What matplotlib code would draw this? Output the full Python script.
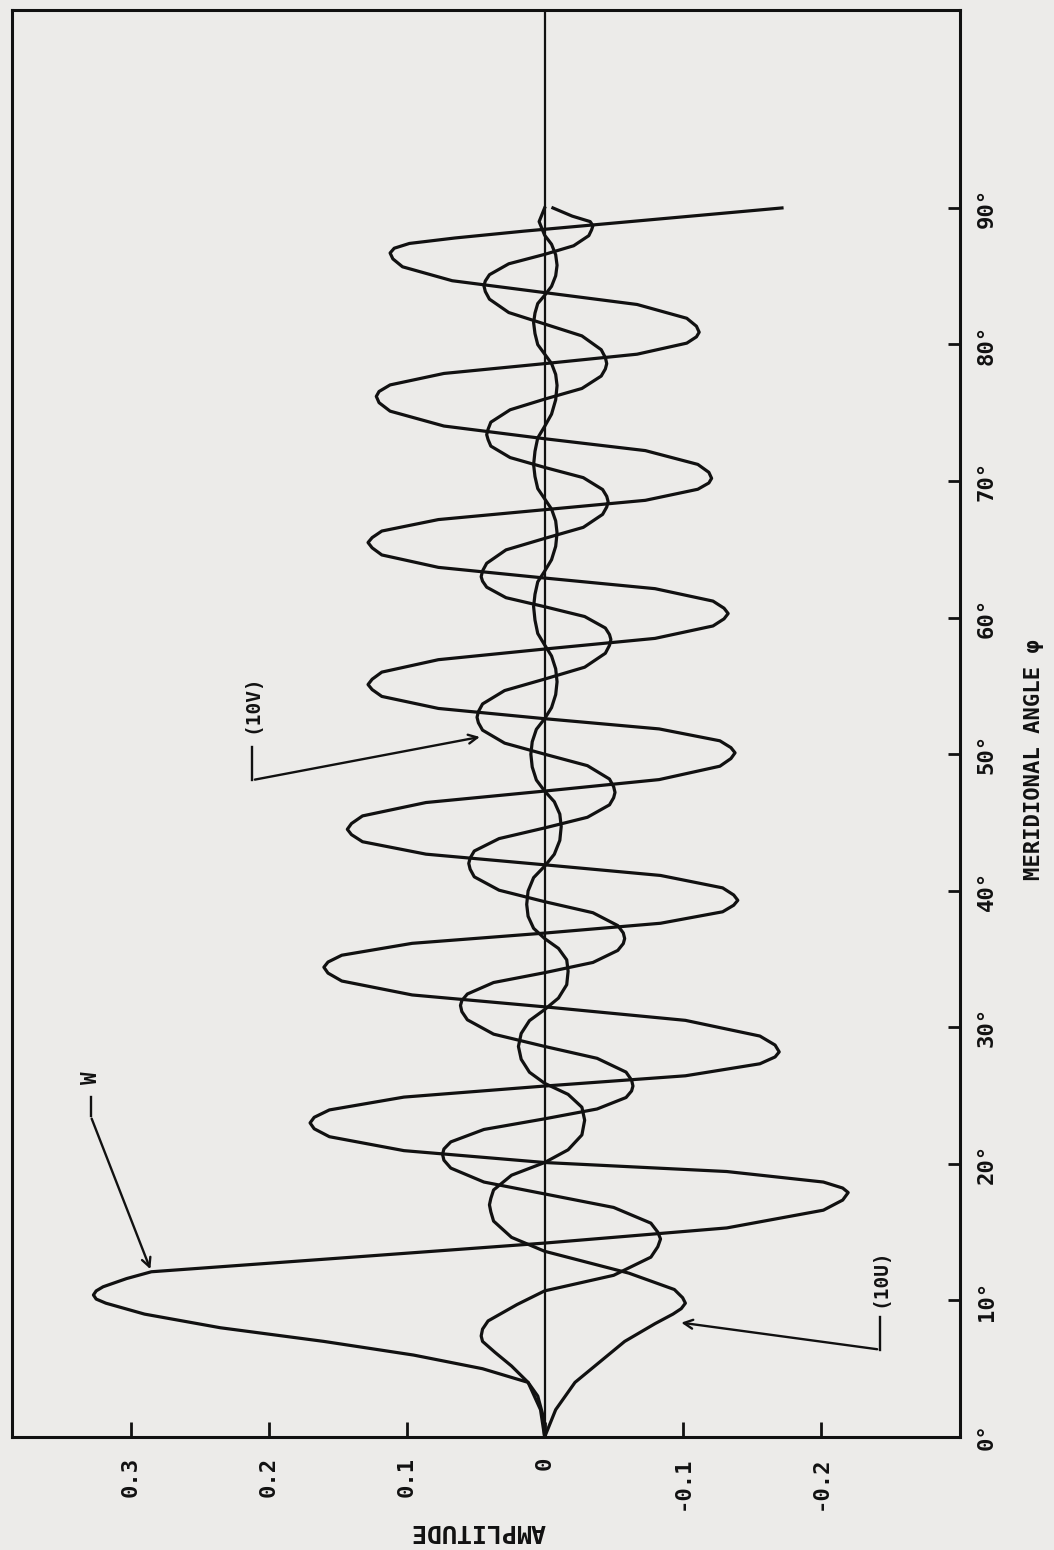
import matplotlib
matplotlib.use("Agg")
import matplotlib.pyplot as plt

# page is a scanned landscape chart turned on its side:
# amplitude runs left->right (positive on the left), meridional angle runs bottom->top

# W curve (angle in degrees, amplitude)
w_angle = [0, 1.5, 3, 4, 5, 6, 7, 8, 9, 9.8, 10.1, 10.4, 10.7, 11.0, 11.6, 12.1, 13.2, 14.2,
           15.31, 16.61, 17.35, 17.9, 18.23, 18.67, 19.44, 20.1,
           20.97, 21.99, 22.57, 23.0, 23.41, 23.95, 24.89, 25.7,
           26.45, 27.33, 27.83, 28.2, 28.7, 29.36, 30.51, 31.5,
           32.37, 33.39, 33.97, 34.4, 34.78, 35.28, 36.15, 36.9,
           37.62, 38.46, 38.94, 39.3, 39.69, 40.21, 41.12, 41.9,
           42.68, 43.59, 44.11, 44.5, 44.92, 45.48, 46.46, 47.3,
           48.14, 49.12, 49.68, 50.1, 50.48, 50.98, 51.85, 52.6,
           53.35, 54.23, 54.73, 55.1, 55.49, 56.01, 56.92, 57.7,
           58.48, 59.39, 59.91, 60.3, 60.69, 61.21, 62.12, 62.9,
           63.68, 64.59, 65.11, 65.5, 65.86, 66.34, 67.18, 67.9,
           68.59, 69.4, 69.86, 70.2, 70.64, 71.22, 72.23, 73.1,
           74.03, 75.12, 75.74, 76.2, 76.56, 77.04, 77.88, 78.6,
           79.29, 80.1, 80.56, 80.9, 81.34, 81.92, 82.93, 83.8,
           84.67, 85.69, 86.27, 86.7, 87.05, 87.4, 87.8, 88.3, 90.0]
w_amp = [0, 0.001, 0.005, 0.012, 0.045, 0.095, 0.16, 0.235, 0.29, 0.318, 0.325, 0.327, 0.325, 0.32, 0.303, 0.285, 0.135, 0.0,
         -0.132, -0.202, -0.216, -0.22, -0.216, -0.202, -0.132, 0,
         0.102, 0.156, 0.167, 0.17, 0.167, 0.156, 0.102, 0,
         -0.102, -0.156, -0.167, -0.17, -0.167, -0.156, -0.102, 0,
         0.096, 0.147, 0.157, 0.16, 0.157, 0.147, 0.096, 0,
         -0.084, -0.129, -0.137, -0.14, -0.137, -0.129, -0.084, 0,
         0.086, 0.132, 0.140, 0.143, 0.140, 0.132, 0.086, 0,
         -0.083, -0.127, -0.135, -0.138, -0.135, -0.127, -0.083, 0,
         0.077, 0.118, 0.125, 0.128, 0.125, 0.118, 0.077, 0,
         -0.080, -0.122, -0.130, -0.133, -0.130, -0.122, -0.080, 0,
         0.077, 0.118, 0.125, 0.128, 0.125, 0.118, 0.077, 0,
         -0.073, -0.111, -0.119, -0.121, -0.119, -0.111, -0.073, 0,
         0.073, 0.112, 0.120, 0.122, 0.120, 0.112, 0.073, 0,
         -0.067, -0.103, -0.110, -0.112, -0.110, -0.103, -0.067, 0,
         0.067, 0.103, 0.110, 0.112, 0.109, 0.098, 0.065, 0.015, -0.172]

# (10V) curve
v_angle = [0, 2, 4, 5.2, 6.2, 7.0, 7.4, 7.9, 8.5, 9.7, 10.7,
           11.84, 13.17, 13.93, 14.5, 15.0, 15.66, 16.81, 17.8,
           18.67, 19.69, 20.27, 20.7, 21.09, 21.61, 22.52, 23.3,
           24.02, 24.86, 25.34, 25.7, 26.14, 26.72, 27.73, 28.6,
           29.5, 30.55, 31.15, 31.6, 31.96, 32.44, 33.28, 34.0,
           34.75, 35.63, 36.13, 36.5, 36.91, 37.45, 38.39, 39.2,
           40.04, 41.02, 41.58, 42.0, 42.39, 42.91, 43.82, 44.6,
           45.38, 46.29, 46.81, 47.2, 47.62, 48.18, 49.16, 50.0,
           50.81, 51.76, 52.3, 52.7, 53.12, 53.68, 54.66, 55.5,
           56.37, 57.39, 57.97, 58.4, 58.76, 59.24, 60.08, 60.8,
           61.46, 62.23, 62.67, 63.0, 63.42, 63.98, 64.96, 65.8,
           66.61, 67.56, 68.1, 68.5, 68.88, 69.38, 70.25, 71.0,
           71.72, 72.56, 73.04, 73.4, 73.79, 74.31, 75.22, 76.0,
           76.78, 77.69, 78.21, 78.6, 79.04, 79.62, 80.63, 81.5,
           82.34, 83.32, 83.88, 84.3, 84.65, 85.11, 85.91, 86.6,
           87.23, 87.97, 88.39, 88.7, 89.0, 89.4, 90.0]
v_amp = [0, 0.003, 0.012, 0.024, 0.036, 0.045, 0.046, 0.045, 0.041, 0.02, 0,
         -0.050, -0.077, -0.082, -0.084, -0.082, -0.077, -0.050, 0,
         0.044, 0.068, 0.073, 0.074, 0.073, 0.068, 0.044, 0,
         -0.038, -0.059, -0.063, -0.064, -0.063, -0.059, -0.038, 0,
         0.037, 0.056, 0.060, 0.061, 0.060, 0.056, 0.037, 0,
         -0.035, -0.053, -0.057, -0.058, -0.057, -0.053, -0.035, 0,
         0.033, 0.051, 0.054, 0.055, 0.054, 0.051, 0.033, 0,
         -0.031, -0.047, -0.050, -0.051, -0.050, -0.047, -0.031, 0,
         0.029, 0.045, 0.048, 0.049, 0.048, 0.045, 0.029, 0,
         -0.029, -0.044, -0.047, -0.048, -0.047, -0.044, -0.029, 0,
         0.028, 0.042, 0.045, 0.046, 0.045, 0.042, 0.028, 0,
         -0.028, -0.042, -0.045, -0.046, -0.045, -0.042, -0.028, 0,
         0.025, 0.039, 0.041, 0.042, 0.041, 0.039, 0.025, 0,
         -0.027, -0.041, -0.044, -0.045, -0.044, -0.041, -0.027, 0,
         0.026, 0.040, 0.043, 0.044, 0.043, 0.040, 0.026, 0,
         -0.021, -0.032, -0.034, -0.035, -0.033, -0.02, -0.006]

# (10U) curve
u_angle = [0, 2, 4, 5.5, 7, 8.3, 9.0, 9.4, 9.8, 10.2, 10.8, 12.0, 13.6,
           14.62, 15.81, 16.49, 17.0, 17.47, 18.09, 19.17, 20.1,
           21.03, 22.12, 23.2, 24.15, 25.09, 25.9,
           26.71, 27.66, 28.6, 29.55, 30.49, 31.3,
           32.14, 33.12, 34.1, 34.94, 35.78, 36.5,
           37.25, 38.13, 39.0, 39.98, 40.96, 41.8,
           42.67, 43.69, 44.7, 45.61, 46.52, 47.3,
           48.11, 49.06, 50.0, 50.91, 51.82, 52.6,
           53.41, 54.36, 55.3, 56.25, 57.19, 58.0,
           58.84, 59.82, 60.8, 61.71, 62.62, 63.4,
           64.24, 65.22, 66.2, 67.08, 67.95, 68.7,
           69.45, 70.33, 71.2, 72.18, 73.16, 74.0,
           74.9, 75.95, 77.0, 77.81, 78.61, 79.3,
           79.99, 80.8, 81.6, 82.3, 83.0, 83.6,
           84.26, 85.03, 85.8, 86.57, 87.34, 88.0,
           89.0, 90.0]
u_amp = [0, -0.008, -0.022, -0.04, -0.058, -0.08, -0.093, -0.099, -0.102, -0.1, -0.094, -0.061, 0,
         0.024, 0.037, 0.039, 0.040, 0.039, 0.037, 0.024, 0,
         -0.017, -0.027, -0.029, -0.027, -0.017, 0,
         0.011, 0.017, 0.019, 0.017, 0.011, 0,
         -0.010, -0.016, -0.017, -0.016, -0.010, 0,
         0.008, 0.012, 0.013, 0.012, 0.008, 0,
         -0.007, -0.011, -0.012, -0.011, -0.007, 0,
         0.006, 0.009, 0.010, 0.009, 0.006, 0,
         -0.005, -0.008, -0.009, -0.008, -0.005, 0,
         0.005, 0.007, 0.008, 0.007, 0.005, 0,
         -0.005, -0.008, -0.009, -0.008, -0.005, 0,
         0.005, 0.007, 0.008, 0.007, 0.005, 0,
         -0.005, -0.008, -0.009, -0.008, -0.005, 0,
         0.005, 0.007, 0.008, 0.007, 0.005, 0,
         -0.005, -0.008, -0.009, -0.008, -0.005, 0,
         0.004, 0.0]

amp_ticks = [0.3, 0.2, 0.1, 0, -0.1, -0.2]
amp_labels = ["0.3", "0.2", "0.1", "0", "-0.1", "-0.2"]
angle_ticks = [0, 10, 20, 30, 40, 50, 60, 70, 80, 90]
angle_labels = ["0°", "10°", "20°", "30°", "40°", "50°", "60°", "70°", "80°", "90°"]

paper = "#ecebe9"
ink = "#111111"
mono = "DejaVu Sans Mono"

fig = plt.figure(figsize=(10.54, 15.5), dpi=100, facecolor=paper)
ax = fig.add_axes([0.0114, 0.0729, 0.8994, 0.9207], facecolor=paper)

ax.axvline(0, color=ink, lw=1.6)
for a, t in [(w_amp, w_angle), (v_amp, v_angle), (u_amp, u_angle)]:
    ax.plot(a, t, color=ink, lw=2.3, solid_joinstyle="round")

ax.set_xlim(0.386, -0.301)
ax.set_ylim(0, 104.5)

for s in ax.spines.values():
    s.set_linewidth(2.2)
    s.set_color(ink)

ax.set_xticks(amp_ticks)
ax.set_xticklabels(amp_labels, rotation=90, fontfamily=mono,
                   fontweight="bold", fontsize=16, color=ink)
ax.yaxis.tick_right()
ax.set_yticks(angle_ticks)
ax.set_yticklabels(angle_labels, rotation=90, fontfamily=mono,
                   fontweight="bold", fontsize=16, color=ink, va="center")
ax.tick_params(axis="x", direction="in", length=10.5, width=2, pad=14, color=ink)
ax.tick_params(axis="y", direction="in", length=8.5, width=2, pad=12, color=ink)

# axis titles
fig.text(478 / 1054, 1 - 1531 / 1550, "AMPLITUDE", rotation=180, ha="center",
         va="center", fontfamily=mono, fontweight="bold", fontsize=18, color=ink)
fig.text(1034 / 1054, 1 - 760 / 1550, "MERIDIONAL ANGLE φ", rotation=90,
         ha="center", va="center", fontfamily=mono, fontweight="bold",
         fontsize=16, color=ink)

# curve call-outs: label, short leader, arrow to the curve
arrow = dict(arrowstyle="->", color=ink, lw=1.7, mutation_scale=16)
lab = dict(rotation=90, ha="center", va="center", fontfamily=mono,
           fontweight="bold", color=ink)

ax.text(0.329, 26.3, "W", fontsize=15, **lab)
ax.plot([0.329, 0.329], [24.9, 23.5], color=ink, lw=1.7)
ax.annotate("", xy=(0.285, 12.1), xytext=(0.329, 23.5), arrowprops=arrow)

ax.text(-0.243, 11.7, "(10U)", fontsize=14, **lab)
ax.plot([-0.243, -0.243], [8.8, 6.4], color=ink, lw=1.7)
ax.annotate("", xy=(-0.097, 8.4), xytext=(-0.243, 6.4), arrowprops=arrow)

ax.text(0.212, 53.7, "(10V)", fontsize=14, **lab)
ax.plot([0.212, 0.212], [50.5, 48.1], color=ink, lw=1.7)
ax.annotate("", xy=(0.045, 51.3), xytext=(0.212, 48.1), arrowprops=arrow)

fig.savefig("out.png", dpi=100, facecolor=paper)
